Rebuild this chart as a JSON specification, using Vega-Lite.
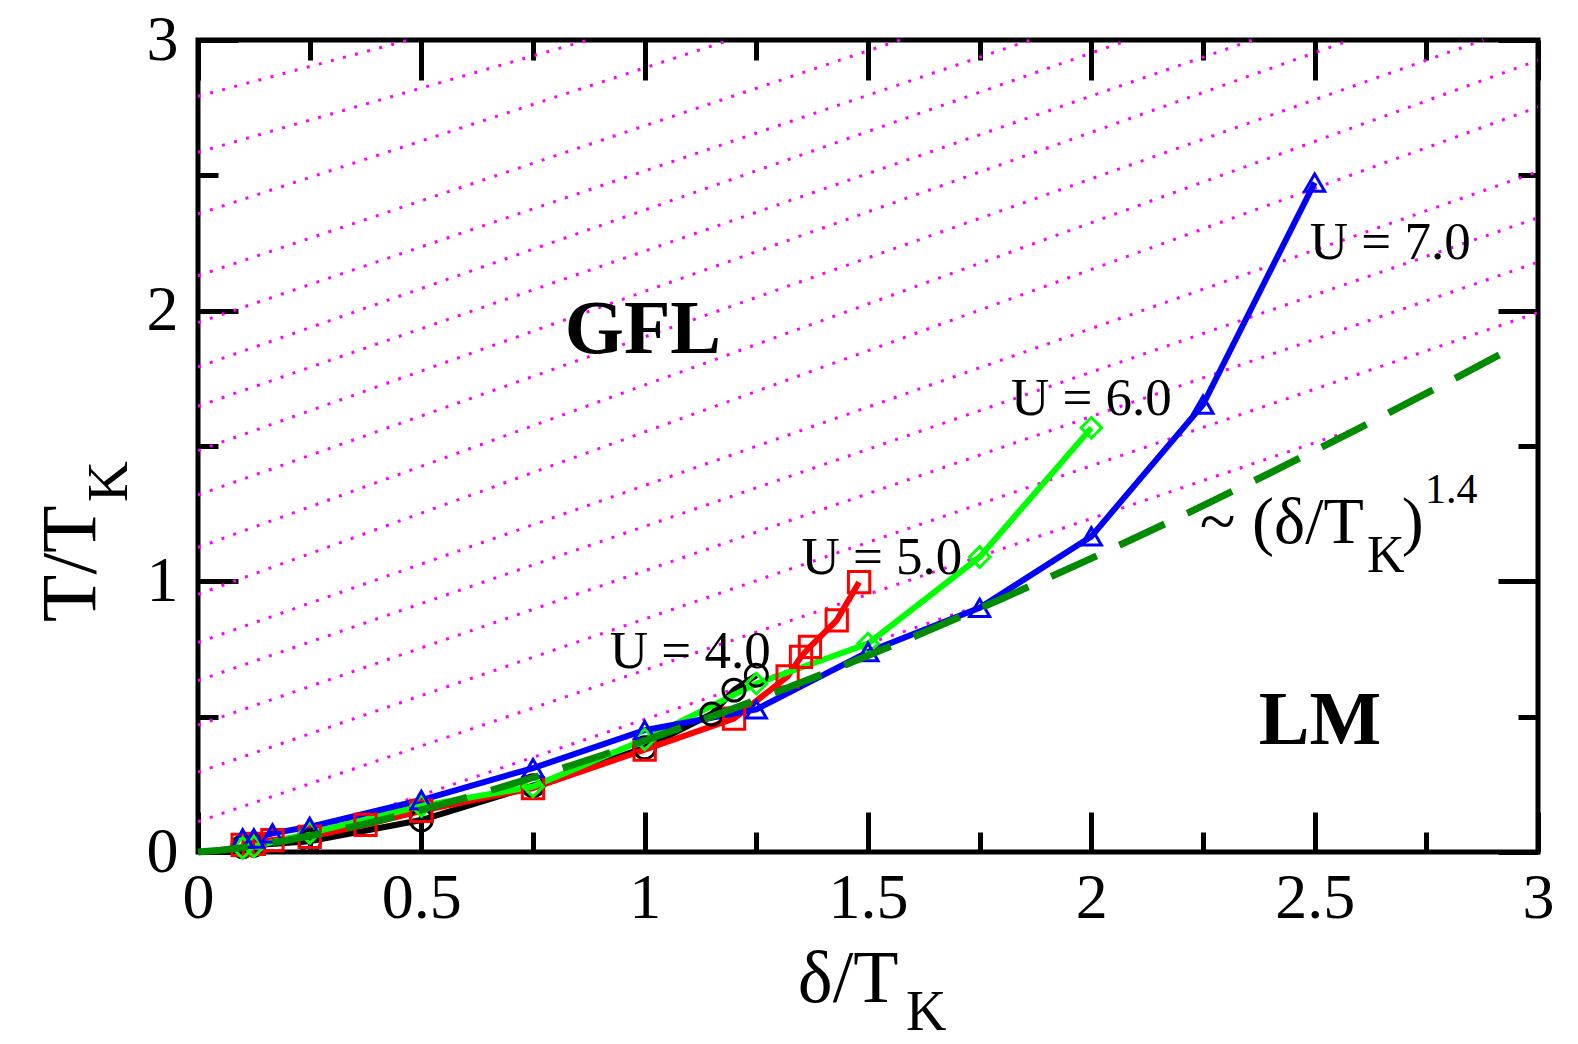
{
  "$schema": "https://vega.github.io/schema/vega-lite/v6.json",
  "width": 1340,
  "height": 812,
  "autosize": {"type": "none"},
  "padding": {"left": 198, "top": 40, "right": 40, "bottom": 192},
  "background": "white",
  "config": {
    "view": {"stroke": "black", "strokeWidth": 5},
    "font": "Liberation Serif",
    "axis": {
      "domain": false,
      "grid": false,
      "title": null,
      "tickColor": "black",
      "tickWidth": 5,
      "labelFont": "Liberation Serif",
      "labelFontSize": 64,
      "labelColor": "black",
      "labelFlush": false,
      "labelOverlap": false
    }
  },
  "datasets": {
    "hatch": [
      {"line": "h1", "x": 0, "y": 2.792}, {"line": "h1", "x": 0.473, "y": 3},
      {"line": "h2", "x": 0, "y": 2.585}, {"line": "h2", "x": 0.874, "y": 3},
      {"line": "h3", "x": 0, "y": 2.357}, {"line": "h3", "x": 1.191, "y": 3},
      {"line": "h4", "x": 0, "y": 2.129}, {"line": "h4", "x": 1.572, "y": 3},
      {"line": "h5", "x": 0, "y": 1.956}, {"line": "h5", "x": 1.864, "y": 3},
      {"line": "h6", "x": 0, "y": 1.792}, {"line": "h6", "x": 2.083, "y": 3},
      {"line": "h7", "x": 0, "y": 1.647}, {"line": "h7", "x": 2.361, "y": 3},
      {"line": "h8", "x": 0, "y": 1.483}, {"line": "h8", "x": 2.58, "y": 3},
      {"line": "h9", "x": 0, "y": 1.319}, {"line": "h9", "x": 2.878, "y": 3},
      {"line": "h10", "x": 0, "y": 1.125}, {"line": "h10", "x": 3, "y": 2.925},
      {"line": "h11", "x": 0, "y": 0.952}, {"line": "h11", "x": 3, "y": 2.752},
      {"line": "h12", "x": 0, "y": 0.774}, {"line": "h12", "x": 3, "y": 2.514},
      {"line": "h13", "x": 0, "y": 0.633}, {"line": "h13", "x": 3, "y": 2.343},
      {"line": "h14", "x": 0, "y": 0.469}, {"line": "h14", "x": 3, "y": 2.179},
      {"line": "h15", "x": 0, "y": 0.295}, {"line": "h15", "x": 3, "y": 1.993},
      {"line": "h16", "x": 0, "y": 0.112}, {"line": "h16", "x": 2.6, "y": 1.568},
      {"line": "h17", "x": 0.2, "y": 0.042}, {"line": "h17", "x": 1.82, "y": 0.949}
    ],
    "curves": [
      {"U": 4, "x": 0.1, "y": 0.02}, {"U": 4, "x": 0.125, "y": 0.025}, {"U": 4, "x": 0.25, "y": 0.04},
      {"U": 4, "x": 0.5, "y": 0.118}, {"U": 4, "x": 0.75, "y": 0.245}, {"U": 4, "x": 1.0, "y": 0.385},
      {"U": 4, "x": 1.15, "y": 0.51}, {"U": 4, "x": 1.2, "y": 0.598}, {"U": 4, "x": 1.25, "y": 0.653},
      {"U": 5, "x": 0.1, "y": 0.026}, {"U": 5, "x": 0.125, "y": 0.03}, {"U": 5, "x": 0.1667, "y": 0.044},
      {"U": 5, "x": 0.25, "y": 0.056}, {"U": 5, "x": 0.375, "y": 0.1}, {"U": 5, "x": 0.5, "y": 0.152},
      {"U": 5, "x": 0.75, "y": 0.236}, {"U": 5, "x": 1.0, "y": 0.378}, {"U": 5, "x": 1.2, "y": 0.493},
      {"U": 5, "x": 1.32, "y": 0.649}, {"U": 5, "x": 1.35, "y": 0.721}, {"U": 5, "x": 1.37, "y": 0.758},
      {"U": 5, "x": 1.43, "y": 0.856}, {"U": 5, "x": 1.48, "y": 0.997},
      {"U": 6, "x": 0.1, "y": 0.015}, {"U": 6, "x": 0.125, "y": 0.02}, {"U": 6, "x": 0.25, "y": 0.07},
      {"U": 6, "x": 0.5, "y": 0.17}, {"U": 6, "x": 0.75, "y": 0.242}, {"U": 6, "x": 1.0, "y": 0.416},
      {"U": 6, "x": 1.25, "y": 0.622}, {"U": 6, "x": 1.5, "y": 0.77}, {"U": 6, "x": 1.75, "y": 1.09},
      {"U": 6, "x": 2.0, "y": 1.567},
      {"U": 7, "x": 0.1, "y": 0.05}, {"U": 7, "x": 0.125, "y": 0.05}, {"U": 7, "x": 0.1667, "y": 0.069},
      {"U": 7, "x": 0.25, "y": 0.093}, {"U": 7, "x": 0.5, "y": 0.192}, {"U": 7, "x": 0.75, "y": 0.31},
      {"U": 7, "x": 1.0, "y": 0.45}, {"U": 7, "x": 1.25, "y": 0.527}, {"U": 7, "x": 1.5, "y": 0.739},
      {"U": 7, "x": 1.75, "y": 0.902}, {"U": 7, "x": 2.0, "y": 1.166}, {"U": 7, "x": 2.25, "y": 1.653},
      {"U": 7, "x": 2.5, "y": 2.473}
    ],
    "fit": [
      {"x": 0, "y": 0}, {"x": 0.05, "y": 0.0062}, {"x": 0.1, "y": 0.0164}, {"x": 0.2, "y": 0.0432},
      {"x": 0.3, "y": 0.0762}, {"x": 0.4, "y": 0.1139}, {"x": 0.5, "y": 0.1557}, {"x": 0.6, "y": 0.201},
      {"x": 0.7, "y": 0.2495}, {"x": 0.8, "y": 0.3007}, {"x": 0.9, "y": 0.3547}, {"x": 1.0, "y": 0.411},
      {"x": 1.2, "y": 0.5305}, {"x": 1.4, "y": 0.6583}, {"x": 1.6, "y": 0.7936}, {"x": 1.8, "y": 0.9359},
      {"x": 2.0, "y": 1.0847}, {"x": 2.2, "y": 1.2395}, {"x": 2.4, "y": 1.4002}, {"x": 2.6, "y": 1.566},
      {"x": 2.8, "y": 1.7373}, {"x": 2.95, "y": 1.869}
    ]
  },
  "layer": [
    {
      "data": {"name": "hatch"},
      "mark": {"type": "line", "color": "#ff00ff", "strokeWidth": 3, "strokeDash": [3, 9.5], "strokeCap": "butt"},
      "encoding": {
        "x": {"field": "x", "type": "quantitative", "scale": {"domain": [0, 3], "nice": false},
          "axis": {"orient": "bottom", "values": [0, 0.5, 1, 1.5, 2, 2.5, 3], "tickSize": -40, "labelPadding": 54, "labelExpr": "'' + datum.value"}},
        "y": {"field": "y", "type": "quantitative", "scale": {"domain": [0, 3], "nice": false},
          "axis": {"orient": "left", "values": [0, 1, 2, 3], "tickSize": -40, "labelPadding": 60, "labelExpr": "'' + datum.value"}},
        "detail": {"field": "line"}
      }
    },
    {
      "data": {"name": "curves"},
      "mark": {"type": "line", "strokeWidth": 6},
      "encoding": {
        "x": {"field": "x", "type": "quantitative", "scale": {"domain": [0, 3], "nice": false},
          "axis": {"orient": "bottom", "values": [0.25, 0.75, 1.25, 1.75, 2.25, 2.75], "tickSize": -20, "labels": false}},
        "y": {"field": "y", "type": "quantitative", "scale": {"domain": [0, 3], "nice": false},
          "axis": {"orient": "left", "values": [0.5, 1.5, 2.5], "tickSize": -20, "labels": false}},
        "color": {"field": "U", "type": "nominal", "scale": {"domain": [4, 5, 6, 7], "range": ["black", "#ff0000", "#00ff00", "#0000ff"]}, "legend": null}
      }
    },
    {
      "data": {"name": "curves"},
      "mark": {"type": "point", "filled": false, "strokeWidth": 3, "opacity": 1},
      "encoding": {
        "x": {"field": "x", "type": "quantitative", "scale": {"domain": [0, 3], "nice": false},
          "axis": {"orient": "top", "values": [0, 0.5, 1, 1.5, 2, 2.5, 3], "tickSize": -40, "labels": false}},
        "y": {"field": "y", "type": "quantitative", "scale": {"domain": [0, 3], "nice": false},
          "axis": {"orient": "right", "values": [0, 1, 2, 3], "tickSize": -40, "labels": false}},
        "color": {"field": "U", "type": "nominal", "scale": {"domain": [4, 5, 6, 7], "range": ["black", "#ff0000", "#00ff00", "#0000ff"]}, "legend": null},
        "shape": {"field": "U", "type": "nominal", "scale": {"domain": [4, 5, 6, 7], "range": ["circle", "square", "diamond", "triangle-up"]}, "legend": null},
        "size": {"field": "U", "type": "ordinal", "scale": {"domain": [4, 5, 6, 7], "range": [480, 400, 620, 700]}, "legend": null}
      }
    },
    {
      "data": {"name": "fit"},
      "mark": {"type": "line", "color": "#008b00", "strokeWidth": 7, "strokeDash": [50, 25]},
      "encoding": {
        "x": {"field": "x", "type": "quantitative", "scale": {"domain": [0, 3], "nice": false},
          "axis": {"orient": "top", "values": [0.25, 0.75, 1.25, 1.75, 2.25, 2.75], "tickSize": -20, "labels": false}},
        "y": {"field": "y", "type": "quantitative", "scale": {"domain": [0, 3], "nice": false},
          "axis": {"orient": "right", "values": [0.5, 1.5, 2.5], "tickSize": -20, "labels": false}}
      }
    },
    {
      "data": {"values": [
        {"t": "U = 4.0", "x": 0.922, "y": 0.678},
        {"t": "U = 5.0", "x": 1.351, "y": 1.028},
        {"t": "U = 6.0", "x": 1.82, "y": 1.616},
        {"t": "U = 7.0", "x": 2.489, "y": 2.192}
      ]},
      "mark": {"type": "text", "font": "Liberation Serif", "fontSize": 53, "align": "left", "baseline": "alphabetic", "color": "black"},
      "encoding": {
        "x": {"field": "x", "type": "quantitative", "scale": {"domain": [0, 3], "nice": false}, "axis": null},
        "y": {"field": "y", "type": "quantitative", "scale": {"domain": [0, 3], "nice": false}, "axis": null},
        "text": {"field": "t"}
      }
    },
    {
      "data": {"values": [
        {"t": "GFL", "x": 0.996, "y": 1.845},
        {"t": "LM", "x": 2.512, "y": 0.399}
      ]},
      "mark": {"type": "text", "font": "Liberation Serif", "fontSize": 76, "fontWeight": "bold", "align": "center", "baseline": "alphabetic", "color": "black"},
      "encoding": {
        "x": {"field": "x", "type": "quantitative", "scale": {"domain": [0, 3], "nice": false}, "axis": null},
        "y": {"field": "y", "type": "quantitative", "scale": {"domain": [0, 3], "nice": false}, "axis": null},
        "text": {"field": "t"}
      }
    },
    {
      "data": {"values": [
        {"t": "~ (δ/T", "x": 2.243, "y": 1.14},
        {"t": ")", "x": 2.695, "y": 1.14}
      ]},
      "mark": {"type": "text", "font": "Liberation Serif", "fontSize": 66, "align": "left", "baseline": "alphabetic", "color": "black"},
      "encoding": {
        "x": {"field": "x", "type": "quantitative", "scale": {"domain": [0, 3], "nice": false}, "axis": null},
        "y": {"field": "y", "type": "quantitative", "scale": {"domain": [0, 3], "nice": false}, "axis": null},
        "text": {"field": "t"}
      }
    },
    {
      "data": {"values": [{"t": "K", "x": 2.617, "y": 1.033}]},
      "mark": {"type": "text", "font": "Liberation Serif", "fontSize": 52, "align": "left", "baseline": "alphabetic", "color": "black"},
      "encoding": {
        "x": {"field": "x", "type": "quantitative", "scale": {"domain": [0, 3], "nice": false}, "axis": null},
        "y": {"field": "y", "type": "quantitative", "scale": {"domain": [0, 3], "nice": false}, "axis": null},
        "text": {"field": "t"}
      }
    },
    {
      "data": {"values": [{"t": "1.4", "x": 2.747, "y": 1.288}]},
      "mark": {"type": "text", "font": "Liberation Serif", "fontSize": 42, "align": "left", "baseline": "alphabetic", "color": "black"},
      "encoding": {
        "x": {"field": "x", "type": "quantitative", "scale": {"domain": [0, 3], "nice": false}, "axis": null},
        "y": {"field": "y", "type": "quantitative", "scale": {"domain": [0, 3], "nice": false}, "axis": null},
        "text": {"field": "t"}
      }
    },
    {
      "data": {"values": [{"t": "δ/T", "x": 1.343, "y": -0.554}]},
      "mark": {"type": "text", "font": "Liberation Serif", "fontSize": 74, "align": "left", "baseline": "alphabetic", "color": "black"},
      "encoding": {
        "x": {"field": "x", "type": "quantitative", "scale": {"domain": [0, 3], "nice": false}, "axis": null},
        "y": {"field": "y", "type": "quantitative", "scale": {"domain": [0, 3], "nice": false}, "axis": null},
        "text": {"field": "t"}
      }
    },
    {
      "data": {"values": [{"t": "K", "x": 1.585, "y": -0.657}]},
      "mark": {"type": "text", "font": "Liberation Serif", "fontSize": 56, "align": "left", "baseline": "alphabetic", "color": "black"},
      "encoding": {
        "x": {"field": "x", "type": "quantitative", "scale": {"domain": [0, 3], "nice": false}, "axis": null},
        "y": {"field": "y", "type": "quantitative", "scale": {"domain": [0, 3], "nice": false}, "axis": null},
        "text": {"field": "t"}
      }
    },
    {
      "data": {"values": [{"t": "T/T", "x": -0.231, "y": 0.849}]},
      "mark": {"type": "text", "font": "Liberation Serif", "fontSize": 78, "angle": 270, "align": "left", "baseline": "alphabetic", "color": "black"},
      "encoding": {
        "x": {"field": "x", "type": "quantitative", "scale": {"domain": [0, 3], "nice": false}, "axis": null},
        "y": {"field": "y", "type": "quantitative", "scale": {"domain": [0, 3], "nice": false}, "axis": null},
        "text": {"field": "t"}
      }
    },
    {
      "data": {"values": [{"t": "K", "x": -0.159, "y": 1.292}]},
      "mark": {"type": "text", "font": "Liberation Serif", "fontSize": 57, "angle": 270, "align": "left", "baseline": "alphabetic", "color": "black"},
      "encoding": {
        "x": {"field": "x", "type": "quantitative", "scale": {"domain": [0, 3], "nice": false}, "axis": null},
        "y": {"field": "y", "type": "quantitative", "scale": {"domain": [0, 3], "nice": false}, "axis": null},
        "text": {"field": "t"}
      }
    }
  ],
  "resolve": {"axis": {"x": "independent", "y": "independent"}}
}
